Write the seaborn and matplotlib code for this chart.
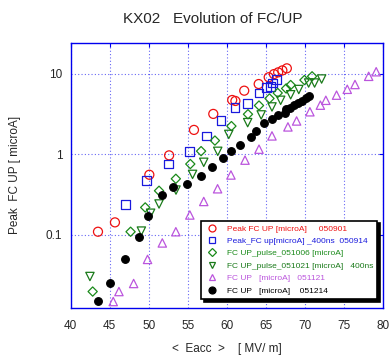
import matplotlib
matplotlib.use("Agg")
import matplotlib.pyplot as plt
import seaborn as sns
import pandas as pd
from matplotlib.lines import Line2D

# --- data ---

# 050901  Peak FC UP (red circles)
eacc_050901 = [43.49, 45.66, 50.06, 52.59, 55.77, 58.24, 60.66, 61.07, 62.20,
               64.05, 65.33, 66.00, 66.54, 67.08, 67.65]
fc_050901 = [0.109, 0.1425, 0.556, 0.969, 2.006, 3.17, 4.72, 4.59, 6.16,
             7.45, 9.05, 9.9, 10.4, 11.0, 11.67]

# 050914  Peak_FC up 400ns (blue squares)
eacc_050914 = [46.97, 49.66, 52.49, 55.15, 57.34, 59.23, 61.01, 62.61, 64.09,
               65.07, 65.58, 65.80, 66.31]
fc_050914 = [0.236, 0.468, 0.756, 1.083, 1.69, 2.65, 3.79, 4.27, 5.77,
             6.71, 6.98, 7.67, 8.53]

# 051006  FC UP pulse (green diamonds)
eacc_051006 = [42.81, 47.66, 49.53, 51.30, 53.45, 55.30, 56.68, 58.45, 60.56,
               62.68, 64.09, 65.43, 66.48, 67.56, 68.14, 69.90, 70.88]
fc_051006 = [0.0197, 0.109, 0.2185, 0.352, 0.4956, 0.756, 1.093, 1.479, 2.237,
             3.14, 4.03, 4.93, 5.77, 6.56, 7.24, 8.35, 9.29]

# 051021  FC UP pulse 400ns (green down triangles)
eacc_051021 = [42.46, 49.04, 50.22, 51.30, 53.47, 55.59, 57.02, 58.81, 60.22,
               62.64, 64.37, 65.75, 66.86, 68.14, 69.18, 70.44, 71.20, 72.10]
fc_051021 = [0.0303, 0.111, 0.185, 0.241, 0.359, 0.562, 0.794, 1.087, 1.764,
             2.47, 3.08, 3.87, 4.68, 5.48, 6.37, 7.67, 7.67, 8.60]

# 051121  FC UP (violet up triangles)
eacc_051121 = [45.44, 46.17, 48.05, 49.83, 51.72, 53.45, 55.24, 57.02, 58.79,
               60.50, 62.30, 64.09, 65.75, 67.79, 68.90, 70.60, 71.94, 72.64,
               74.01, 75.38, 76.37, 78.12, 79.08]
fc_051121 = [0.0148, 0.0197, 0.0248, 0.0494, 0.0791, 0.109, 0.176, 0.259, 0.3725,
             0.5525, 0.845, 1.156, 1.69, 2.186, 2.59, 3.37, 4.07, 4.68,
             5.42, 6.41, 7.35, 9.29, 10.59]

# 051214  FC UP (black dots)
eacc_051214 = [43.52, 45.02, 46.90, 48.72, 49.85, 51.62, 53.09, 54.92, 56.64,
               58.07, 59.48, 60.56, 61.66, 63.03, 63.73, 64.73, 65.73, 66.48,
               67.37, 67.54, 68.05, 68.52, 69.07, 69.54, 70.05, 70.43]
fc_051214 = [0.0150, 0.0250, 0.0499, 0.0947, 0.170, 0.311, 0.394, 0.426, 0.540,
             0.698, 0.902, 1.102, 1.308, 1.62, 1.92, 2.41, 2.76, 3.06,
             3.29, 3.62, 3.79, 4.06, 4.30, 4.59, 5.03, 5.29]

labels = [
    "Peak FC UP [microA]     050901",
    "Peak_FC up[microA] _400ns  050914",
    "FC UP_pulse_051006 [microA]",
    "FC UP_pulse_051021 [microA]   400ns",
    "FC UP   [microA]   051121",
    "FC UP   [microA]    051214",
]
x_ticks = [40, 45, 50, 55, 60, 65, 70, 75, 80]
y_ticks = [0.1, 1, 10]
y_tick_labels = ["0.1", "1", "10"]

# --- styling ---

sns.set_style("white")
plt.rcParams["font.family"] = ["Liberation Sans", "DejaVu Sans"]

blue = "#0000ee"
series = [
    (eacc_050901, fc_050901, "o", "#ee1111", False),
    (eacc_050914, fc_050914, "s", "#1a1add", False),
    (eacc_051006, fc_051006, "D", "#1a8a1a", False),
    (eacc_051021, fc_051021, "v", "#1a7a1a", False),
    (eacc_051121, fc_051121, "^", "#bb55dd", False),
    (eacc_051214, fc_051214, "o", "#000000", True),
]
sizes = {"o": 42, "s": 40, "D": 22, "v": 36, "^": 36}

fig = plt.figure(figsize=(3.9, 3.57), dpi=100)
ax = fig.add_axes([0.1813, 0.138, 0.8017, 0.7424])

handles = []
for (xs, ys, mk, col, filled), lab in zip(series, labels):
    df = pd.DataFrame({"Eacc": xs, "FC": ys})
    n_before = len(ax.collections)
    sns.scatterplot(data=df, x="Eacc", y="FC", marker=mk, s=sizes[mk] if not filled else 30,
                    ax=ax, legend=False, linewidth=0.9)
    coll = ax.collections[n_before]
    if filled:
        coll.set_facecolor(col)
        coll.set_edgecolor(col)
    else:
        coll.set_facecolor("none")
        coll.set_edgecolor(col)
    handles.append(Line2D([], [], linestyle="none", marker=mk,
                          markersize=5 if mk != "D" else 4,
                          markerfacecolor=col if filled else "none",
                          markeredgecolor=col, markeredgewidth=0.9))

ax.set_yscale("log")
ax.set_xlim(40, 80)
ax.set_ylim(0.0124, 24.3)
ax.set_xticks(x_ticks)
ax.set_yticks(y_ticks)
ax.set_yticklabels(y_tick_labels)
ax.minorticks_off()
ax.tick_params(axis="both", direction="in", length=3, color=blue,
               labelsize=8.5, top=True, right=True)
ax.tick_params(axis="x", pad=9)
ax.tick_params(axis="y", pad=6)
for sp in ax.spines.values():
    sp.set_color(blue)
    sp.set_linewidth(1.0)
ax.grid(True, color=blue, linestyle=(0, (1, 2)), linewidth=0.8, alpha=0.6)

ax.set_xlabel("<  Eacc  >    [ MV/ m]", fontsize=8.5, labelpad=8)
ax.set_ylabel("Peak  FC UP [ microA]", fontsize=8.5, labelpad=18)
fig.suptitle("KX02   Evolution of FC/UP", fontsize=11, x=0.545, y=0.965)

leg = ax.legend(handles, labels, loc="lower right", bbox_to_anchor=(0.994, 0.018),
                fontsize=6, labelspacing=0.55, handletextpad=1.0, borderpad=0.5,
                handlelength=1.6, frameon=True, fancybox=False,
                shadow={"color": "black", "alpha": 1.0, "ox": 2, "oy": -2})
leg.get_frame().set_edgecolor("black")
leg.get_frame().set_linewidth(1.2)
for txt, (_, _, _, col, _) in zip(leg.get_texts(), series):
    txt.set_color(col)

fig.savefig("out.png", dpi=100)
